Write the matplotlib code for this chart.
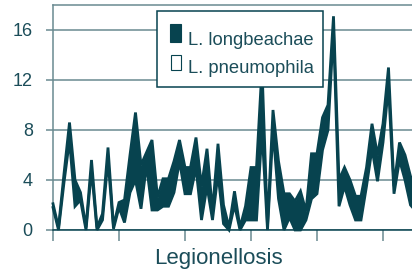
import matplotlib
matplotlib.use("Agg")
import matplotlib.pyplot as plt
import numpy as np
from matplotlib.patches import Rectangle

# monthly case counts (stacked: pneumophila at the bottom)
pneumophila = [1.8, 0.0, 3.8, 7.2, 1.9, 2.4, 0.0, 4.8, 0.0, 0.8,
               5.6, 0.1, 1.8, 0.6, 3.0, 4.0, 1.7, 5.2, 1.6, 1.6,
               1.9, 1.9, 3.0, 5.5, 2.9, 2.9, 5.0, 0.8, 3.5, 0.8,
               4.5, 0.5, 0.0, 2.0, 0.0, 0.8, 0.8, 0.8, 8.0, 0.0,
               8.0, 2.5, 0.0, 1.0, 0.0, 0.0, 0.8, 2.5, 2.9, 6.4,
               8.0, 16.0, 1.9, 3.5, 2.0, 0.8, 0.8, 3.5, 6.5, 3.9,
               7.0, 11.5, 2.9, 5.6, 4.0, 2.0, 1.5]
longbeachae = [0.3, 0.2, 0.7, 1.4, 2.1, 0.6, 0.2, 0.8, 0.2, 0.5,
               1.0, 0.2, 0.4, 1.8, 3.0, 5.4, 3.5, 1.0, 5.6, 1.0,
               2.2, 2.2, 2.5, 1.7, 2.1, 2.1, 2.4, 2.7, 3.0, 0.7,
               2.4, 1.5, 0.2, 1.1, 0.2, 1.1, 4.2, 4.2, 5.0, 0.3,
               1.6, 3.0, 2.9, 1.9, 2.3, 3.1, 0.7, 3.6, 3.2, 2.6,
               2.0, 1.1, 2.1, 1.5, 2.0, 1.9, 1.9, 1.5, 2.0, 2.1,
               1.5, 1.5, 0.6, 1.4, 2.0, 2.3, 2.0]
xlabel = "Legionellosis"
legend_labels = ["L. longbeachae", "L. pneumophila"]
yticks = [0, 4, 8, 12, 16]

W, H = 412, 271
dark = "#07434f"
grid_c = "#6a8a91"
text_c = "#1b4d59"

plt.rcParams["font.family"] = ["Liberation Sans", "DejaVu Sans"]

fig = plt.figure(figsize=(W / 100, H / 100), dpi=100)
ax = fig.add_axes([53 / W, 1 - 230 / H, 1 - 53 / W, 225 / H])

x = np.arange(len(pneumophila))
lower = np.array(pneumophila)
upper = lower + np.array(longbeachae)

ax.fill_between(x, lower, upper, color=dark, lw=0, zorder=3, clip_on=False)
for y in (upper, lower):
    ax.plot(x, y, color=dark, lw=2.0, zorder=4, clip_on=False,
            solid_joinstyle="miter")

ax.set_xlim(0, (W - 53) / 5.5)
ax.set_ylim(0, 18)

ax.set_yticks(yticks)
ax.set_yticklabels([str(v) for v in yticks])
ax.set_xticks(np.arange(0, len(x), 12))
ax.set_xticklabels([])
ax.grid(True, axis="y", color=grid_c, lw=1.1, zorder=1)
ax.tick_params(axis="y", length=5, width=1.1, color=grid_c, pad=9.5,
               labelsize=13, labelcolor=text_c)
ax.tick_params(axis="x", length=8, width=1.1, color=grid_c)

for side in ["left", "top"]:
    ax.spines[side].set_color(grid_c)
    ax.spines[side].set_linewidth(1.1)
ax.spines["bottom"].set_color(dark)
ax.spines["bottom"].set_linewidth(1.1)
ax.spines["right"].set_visible(False)

fig.text(218 / W, 1 - 264 / H, xlabel, ha="center", va="baseline",
         fontsize=16, color=text_c)


def px(xp, yp):
    return xp / W, 1 - yp / H


# legend drawn by hand in figure pixels
box = Rectangle(px(157, 87), 166 / W, 76 / H, transform=fig.transFigure,
                facecolor="white", edgecolor=dark, lw=1.1, zorder=10)
fig.add_artist(box)
fig.add_artist(Rectangle(px(170, 42), 11 / W, 18 / H, transform=fig.transFigure,
                         facecolor=dark, edgecolor=dark, lw=0.8, zorder=11))
fig.add_artist(Rectangle(px(170.5, 70), 10 / W, 15 / H, transform=fig.transFigure,
                         facecolor="white", edgecolor=dark, lw=0.8, zorder=11))
fig.text(*px(188, 45), legend_labels[0], fontsize=13.2, color=text_c,
         va="baseline", zorder=12)
fig.text(*px(188, 73), legend_labels[1], fontsize=13.2, color=text_c,
         va="baseline", zorder=12)

fig.savefig("out.png", dpi=100)
